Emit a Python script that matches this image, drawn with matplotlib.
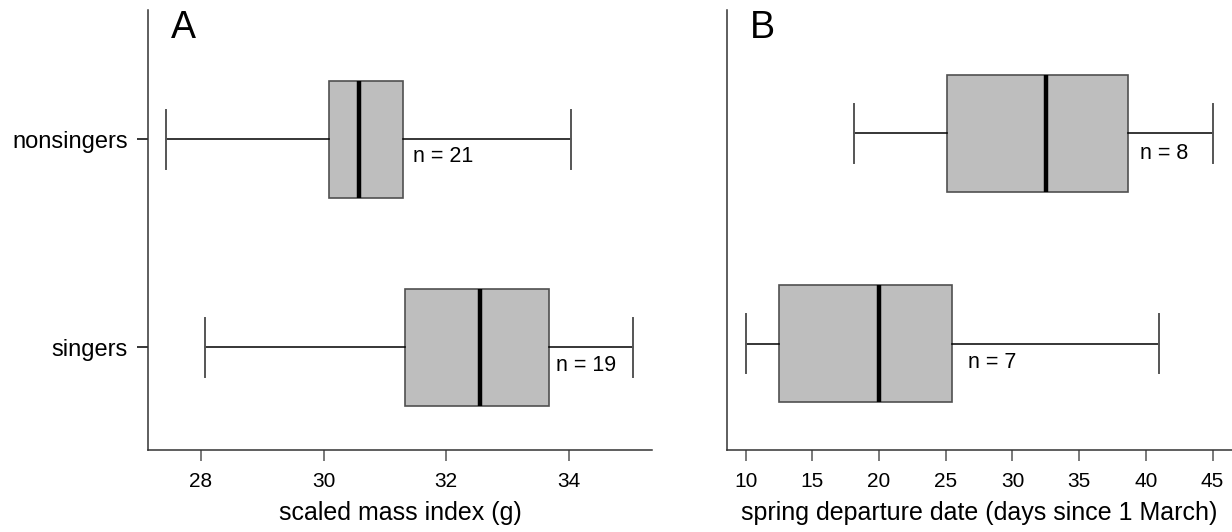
import matplotlib
matplotlib.use("Agg")
import matplotlib.pyplot as plt

plt.rcParams['font.family'] = ['Liberation Sans', 'DejaVu Sans']

# ---- data ----
groups = ["nonsingers", "singers"]
positions = [2, 1]

# Panel A: scaled mass index (g)
mass_whislo = [27.43, 28.07]
mass_q1 = [30.09, 31.33]
mass_med = [30.58, 32.56]
mass_q3 = [31.29, 33.68]
mass_whishi = [34.03, 35.05]
mass_n = [21, 19]

# Panel B: spring departure date (days since 1 March)
dep_whislo = [18.1, 10.0]
dep_q1 = [25.1, 12.5]
dep_med = [32.5, 20.0]
dep_q3 = [38.7, 25.5]
dep_whishi = [45.05, 41.0]
dep_n = [8, 7]

mass_ticks = [28, 30, 32, 34]
dep_ticks = [10, 15, 20, 25, 30, 35, 40, 45]


def make_stats(lo, q1, med, q3, hi):
    return [dict(whislo=a, q1=b, med=c, q3=d, whishi=e, fliers=[])
            for a, b, c, d, e in zip(lo, q1, med, q3, hi)]


fig = plt.figure(figsize=(12.32, 5.32), dpi=100)
axA = fig.add_axes([148 / 1232, 82 / 532, 504 / 1232, 440 / 532])
axB = fig.add_axes([726.7 / 1232, 82 / 532, 505.3 / 1232, 440 / 532])

box_face = "#bebebe"
box_edge = "#505050"


def draw(ax, stats, width, capw):
    ax.bxp(stats, positions=positions, orientation='horizontal',
           widths=width, capwidths=capw, patch_artist=True, showfliers=False,
           boxprops=dict(facecolor=box_face, edgecolor=box_edge, linewidth=1.2),
           medianprops=dict(color="black", linewidth=3.2, solid_capstyle='butt'),
           whiskerprops=dict(color="black", linewidth=1.1),
           capprops=dict(color="#555555", linewidth=1.4))


draw(axA, make_stats(mass_whislo, mass_q1, mass_med, mass_q3, mass_whishi), 0.5625, 0.284)
draw(axB, make_stats(dep_whislo, dep_q1, dep_med, dep_q3, dep_whishi), 0.557, 0.28)

axA.set_xlim(27.135, 35.36)
axA.set_ylim(0.507, 2.62)
axB.set_xlim(8.575, 46.46)
axB.set_ylim(0.493, 2.588)

for ax in (axA, axB):
    ax.spines['top'].set_visible(False)
    ax.spines['right'].set_visible(False)
    for s in ('left', 'bottom'):
        ax.spines[s].set_color("#333333")
        ax.spines[s].set_linewidth(1.1)
    ax.tick_params(axis='x', length=8, width=1.1, color="#555555", pad=8,
                   labelsize=15)

axA.set_xticks(mass_ticks)
axA.set_xticklabels([str(t) for t in mass_ticks])
axB.set_xticks(dep_ticks)
axB.set_xticklabels([str(t) for t in dep_ticks])

axA.set_yticks(positions)
axA.set_yticklabels(groups)
axA.tick_params(axis='y', length=8, width=1.1, pad=6.5, labelsize=17)
axB.set_yticks([])

axA.set_xlabel("scaled mass index (g)", fontsize=18, labelpad=7)
axB.set_xlabel("spring departure date (days since 1 March)", fontsize=18, labelpad=7)

axA.text(0.046, 1.0, "A", transform=axA.transAxes, fontsize=27, va='top', ha='left')
axB.text(0.045, 1.0, "B", transform=axB.transAxes, fontsize=27, va='top', ha='left')

# n labels
offsA = [(7.2, -12.2), (5.0, -13.4)]
offsB = [(8.6, -14.5), (11.5, -14.0)]
for q3, p, n, off in zip(mass_q3, positions, mass_n, offsA):
    axA.annotate(f"n = {n}", xy=(q3, p), xytext=off, textcoords='offset points',
                 ha='left', va='center', fontsize=15.5)
for q3, p, n, off in zip(dep_q3, positions, dep_n, offsB):
    axB.annotate(f"n = {n}", xy=(q3, p), xytext=off, textcoords='offset points',
                 ha='left', va='center', fontsize=15.5)

fig.savefig("out.png", dpi=100)
